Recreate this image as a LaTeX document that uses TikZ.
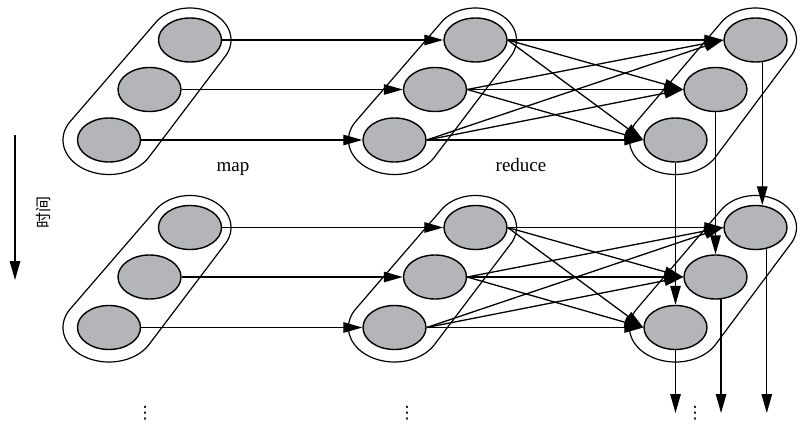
\documentclass[tikz,border=0pt]{standalone}
\usepackage{fontspec}
\setmainfont{Liberation Serif}
\newfontfamily\cjk{Noto Sans CJK SC}
\newfontfamily\symfont{DejaVu Sans}
\usetikzlibrary{arrows.meta,shapes.geometric}
\definecolor{cellgray}{RGB}{180,181,184}
\newcommand{\capsulepath}[4]{%
  \draw[hull] plot[domain=212:392,samples=60] ({#1+41*cos(\x)},{#2+32*sin(\x)})
    -- plot[domain=31:211,samples=60] ({#3+46*cos(\x)},{#4+34.5*sin(\x)}) -- cycle;}
\begin{document}
\begin{tikzpicture}[x=1pt,y=-1pt,
  cell/.style={ellipse, draw, line width=1.4pt, fill=cellgray, minimum width=63pt, minimum height=44pt, inner sep=0pt},
  hull/.style={line width=1.2pt},
  flow/.style={line width=1.3pt, -{Triangle[length=19pt,width=10.5pt]}},
  lbl/.style={font=\fontsize{19}{22}\selectfont},
  dots/.style={inner sep=0pt, font=\symfont\fontsize{17}{17}\selectfont}]
\useasboundingbox (0,0) rectangle (801,426);
\foreach \dy/\h in {0/a,187.5/b} {
  % capsules
  \capsulepath{190}{40+\dy}{109}{140+\dy}
  \capsulepath{475.5}{40+\dy}{394.5}{140+\dy}
  \capsulepath{755.5}{40+\dy}{675.5}{140+\dy}
  % cells
  \node[cell] (m\h1) at (190,40+\dy) {};
  \node[cell] (m\h2) at (149.5,89.5+\dy) {};
  \node[cell] (m\h3) at (109,140+\dy) {};
  \node[cell] (r\h1) at (475.5,40+\dy) {};
  \node[cell] (r\h2) at (435,89.5+\dy) {};
  \node[cell] (r\h3) at (394.5,140+\dy) {};
  \node[cell] (q\h1) at (755.5,40+\dy) {};
  \node[cell] (q\h2) at (715.5,89.5+\dy) {};
  \node[cell] (q\h3) at (675.5,140+\dy) {};
  % map edges
  \foreach \i in {1,2,3} {
    \draw[flow] (m\h\i.east) -- (r\h\i.west);
  }
  % reduce edges
  \foreach \i in {1,2,3} {
    \foreach \j in {1,2,3} {
      \draw[flow] (r\h\i.east) -- (q\h\j.west);
    }
  }
}
% vertical connections
\draw[flow] (qa1.-73.7) -- (qb1.73.7);
\draw[flow] (qa2.south) -- (qb2.north);
\draw[flow] (qa3.south) -- (qb3.north);
\coordinate (bot) at (0,413);
\coordinate (o1) at (qb1.-62.7);
\coordinate (o2) at (qb2.-76.7);
\coordinate (o3) at (qb3.south);
\draw[flow] (o1) -- (o1 |- bot);
\draw[flow] (o2) -- (o2 |- bot);
\draw[flow] (o3) -- (o3 |- bot);
% time axis
\coordinate (ts) at (15,135);
\coordinate (te) at (15,280);
\draw[flow] (ts) -- (te);
\node[rotate=90, font=\cjk\fontsize{16}{16}\selectfont] (time) at (43.5,212) {时间};
% labels
\node[lbl, anchor=base] (maplbl) at (233,171) {map};
\node[lbl, anchor=base] (redlbl) at (521,171) {reduce};
\node[dots] (d1) at (145,413.5) {⋮};
\node[dots] (d2) at (407,413.5) {⋮};
\node[dots] (d3) at (695,413.5) {⋮};
\end{tikzpicture}
\end{document}
